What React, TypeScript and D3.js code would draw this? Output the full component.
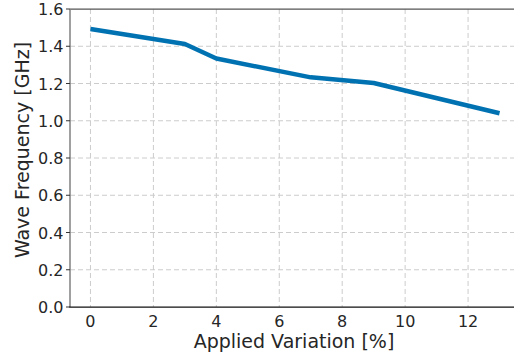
import React, { useRef, useEffect } from "react";
import * as d3 from "d3";

// measured points (x = applied variation in %, y = frequency in GHz)
const variation = [0, 3, 4, 7, 9, 13];
const frequency = [1.493, 1.412, 1.334, 1.233, 1.203, 1.04];
const xTicks = [0, 2, 4, 6, 8, 10, 12];
const yTicks = [0, 0.2, 0.4, 0.6, 0.8, 1.0, 1.2, 1.4, 1.6];

const width = 514;
const height = 356;

const App = () => {
  const svgRef = useRef<SVGSVGElement>(null);

  useEffect(() => {
    const svg = d3.select(svgRef.current);
    svg.selectAll("*").remove();

    const left = 70;
    const right = 520;
    const top = 9;
    const bottom = 307;
    const font = "DejaVu Sans, sans-serif";

    const x = d3.scaleLinear().domain([-0.65, 13.65]).range([left, right]);
    const y = d3.scaleLinear().domain([0, 1.6]).range([bottom, top]);

    // grid
    const grid = svg.append("g");
    grid.selectAll("line.vx")
      .data(xTicks)
      .enter()
      .append("line")
      .attr("x1", d => x(d))
      .attr("x2", d => x(d))
      .attr("y1", top)
      .attr("y2", bottom)
      .attr("stroke", "#cccccc")
      .attr("stroke-width", 1)
      .attr("stroke-dasharray", "5,3");
    grid.selectAll("line.hy")
      .data(yTicks.filter(d => d > 0 && d < 1.6))
      .enter()
      .append("line")
      .attr("x1", left)
      .attr("x2", right)
      .attr("y1", d => y(d))
      .attr("y2", d => y(d))
      .attr("stroke", "#cccccc")
      .attr("stroke-width", 1)
      .attr("stroke-dasharray", "5,3");

    // line
    const pts = variation.map((v, i) => [v, frequency[i]] as [number, number]);
    const line = d3.line<[number, number]>()
      .x(d => x(d[0]))
      .y(d => y(d[1]));
    svg.append("path")
      .attr("d", line(pts))
      .attr("fill", "none")
      .attr("stroke", "#0072B2")
      .attr("stroke-width", 4.5)
      .attr("stroke-linejoin", "round")
      .attr("stroke-linecap", "butt");

    // spines
    svg.append("line")
      .attr("x1", left).attr("x2", right)
      .attr("y1", top).attr("y2", top)
      .attr("stroke", "#555555").attr("stroke-width", 1.25);
    svg.append("line")
      .attr("x1", left).attr("x2", left)
      .attr("y1", top).attr("y2", bottom)
      .attr("stroke", "#808080").attr("stroke-width", 1.5);
    svg.append("line")
      .attr("x1", left - 0.75).attr("x2", right)
      .attr("y1", bottom).attr("y2", bottom)
      .attr("stroke", "#111111").attr("stroke-width", 1.25);

    // y ticks
    const yt = svg.append("g");
    yt.selectAll("line")
      .data(yTicks)
      .enter()
      .append("line")
      .attr("x1", left - 4)
      .attr("x2", left)
      .attr("y1", d => y(d))
      .attr("y2", d => y(d))
      .attr("stroke", "#333333")
      .attr("stroke-width", 1);
    yt.selectAll("text")
      .data(yTicks)
      .enter()
      .append("text")
      .attr("x", 63.5)
      .attr("y", d => y(d) + 6)
      .attr("text-anchor", "end")
      .style("font-family", font)
      .style("font-size", "16px")
      .style("fill", "#262626")
      .text(d => d.toFixed(1));

    // x ticks
    svg.append("g")
      .selectAll("text")
      .data(xTicks)
      .enter()
      .append("text")
      .attr("x", d => x(d))
      .attr("y", 326.5)
      .attr("text-anchor", "middle")
      .style("font-family", font)
      .style("font-size", "16px")
      .style("fill", "#262626")
      .text(d => d);

    // axis labels
    svg.append("text")
      .attr("x", (left + right) / 2 - 1)
      .attr("y", 348)
      .attr("text-anchor", "middle")
      .style("font-family", font)
      .style("font-size", "19px")
      .style("fill", "#262626")
      .text("Applied Variation [%]");
    svg.append("text")
      .attr("transform", "translate(29, 150) rotate(-90)")
      .attr("text-anchor", "middle")
      .style("font-family", font)
      .style("font-size", "19px")
      .style("fill", "#262626")
      .text("Wave Frequency [GHz]");
  }, []);

  return (
    <svg
      ref={svgRef}
      width={width}
      height={height}
      style={{ position: "absolute", left: 0, top: 0, background: "white" }}
    ></svg>
  );
};

export default App;
